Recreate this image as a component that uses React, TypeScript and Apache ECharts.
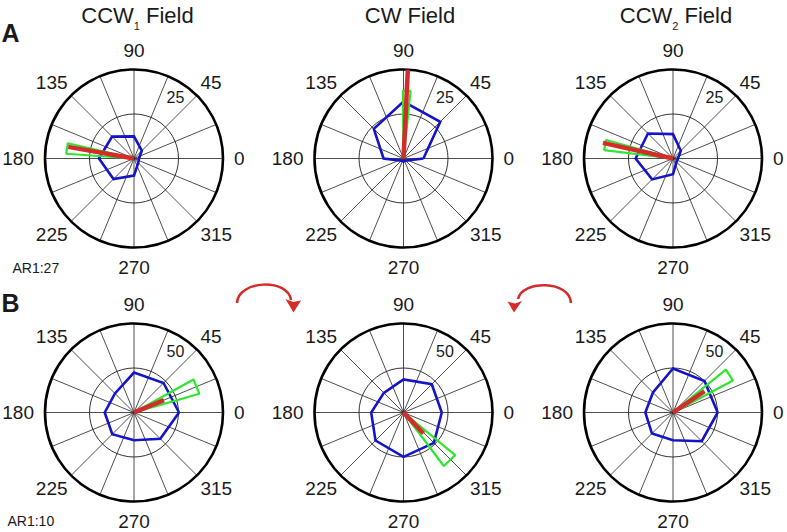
import React, { useEffect, useRef } from 'react';
import * as echarts from 'echarts';

// ---------- data ----------
const directions = [0, 45, 90, 135, 180, 225, 270, 315];
const angleLabelValues = [0, 45, 90, 135, 180, 225, 270, 315];

const panelTitleMain = ['CCW', 'CW', 'CCW'];
const panelTitleSub = ['1', '', '2'];
const rowLetters = ['A', 'B'];
const rowNotes = ['AR1:27', 'AR1:10'];
const rowMax = [50, 100];
const rowRingLabel = ['25', '50'];

// blue tuning curves (one value per direction)
const tuningA1 = [2.8, 6.2, 12.4, 17.4, 19.7, 16.3, 9.6, 3.4];
const tuningA2 = [11.2, 29.2, 32, 23.6, 11.2, 1.7, 1.7, 1.7];
const tuningA3 = [2.8, 6.2, 13.7, 19.9, 21, 16.6, 8.8, 2.8];
const tuningB1 = [50.6, 46.9, 44.9, 30.2, 32.9, 34.5, 31.1, 41.8];
const tuningB2 = [43, 44.9, 37.1, 31.2, 36.3, 44.5, 49.8, 48.3];
const tuningB3 = [50.2, 50, 49.4, 31.8, 31.1, 33.4, 31.1, 45.6];
const tunings = [tuningA1, tuningA2, tuningA3, tuningB1, tuningB2, tuningB3];

// green wedges
const wedgeStart = [167, 84, 164.5, 16, 307, 28];
const wedgeEnd = [176, 90.5, 173, 29, 320.5, 39];
const wedgeRadius = [38.2, 38.2, 39, 76.4, 75.3, 76.4];

// red mean vectors
const vectorAngle = [170, 87.2, 167.4, 22.4, 313.6, 34];
const vectorLength = [37.5, 57.1, 40.3, 36.4, 32.6, 42.7];

// ---------- layout ----------
const colX = [134, 403.5, 673];
const rowY = [158.5, 412.5];
const R = 89;
const FONT = '"Liberation Sans", Arial, Helvetica, sans-serif';
const TEXT = '#1a1a1a';
const BLUE = '#1414c8';
const GREEN = '#2ee62e';
const RED = '#d42b2b';

function buildOption() {
  const polar: any[] = [];
  const angleAxis: any[] = [];
  const radiusAxis: any[] = [];
  const series: any[] = [];
  const graphic: any[] = [];

  for (let i = 0; i < 6; i++) {
    const r = Math.floor(i / 3);
    const c = i % 3;
    const cx = colX[c];
    const cy = rowY[r];
    polar.push({ center: [cx, cy], radius: R });
    angleAxis.push({
      polarIndex: i,
      type: 'value',
      min: 0,
      max: 360,
      interval: 22.5,
      startAngle: 0,
      clockwise: false,
      axisLine: { show: true, lineStyle: { color: '#000', width: 2.6 } },
      axisTick: { show: false },
      splitLine: { show: true, lineStyle: { color: '#222', width: 0.8 } },
      axisLabel: {
        margin: 5,
        fontSize: 19,
        fontFamily: FONT,
        color: TEXT,
        formatter: (v: number) => {
          if (!angleLabelValues.includes(v)) return '';
          return v % 90 === 0 ? `{ax|${v}}` : `{dg|${v}}`;
        },
        rich: {
          ax: { fontSize: 19, fontFamily: FONT, color: TEXT, padding: [5, 6] },
          dg: { fontSize: 19, fontFamily: FONT, color: TEXT },
        },
      },
    });
    radiusAxis.push({
      polarIndex: i,
      type: 'value',
      min: 0,
      max: rowMax[r],
      interval: rowMax[r] / 2,
      axisLine: { show: false },
      axisTick: { show: false },
      axisLabel: { show: false },
      splitLine: { show: true, lineStyle: { color: '#000', width: 0.8 } },
    });

    const tuning = tunings[i];
    const blueData = directions.map((a, k) => [tuning[k], a]);
    blueData.push([tuning[0], directions[0]]);
    series.push({
      type: 'line',
      coordinateSystem: 'polar',
      polarIndex: i,
      data: blueData,
      symbol: 'none',
      clip: false,
      silent: true,
      z: 3,
      lineStyle: { color: BLUE, width: 2.6, join: 'miter' },
    });
    series.push({
      type: 'line',
      coordinateSystem: 'polar',
      polarIndex: i,
      data: [
        [0, wedgeStart[i]],
        [wedgeRadius[i], wedgeStart[i]],
        [wedgeRadius[i], wedgeEnd[i]],
        [0, wedgeEnd[i]],
      ],
      symbol: 'none',
      clip: false,
      silent: true,
      z: 4,
      lineStyle: { color: GREEN, width: 2.2 },
    });
    series.push({
      type: 'line',
      coordinateSystem: 'polar',
      polarIndex: i,
      data: [
        [0, vectorAngle[i]],
        [vectorLength[i], vectorAngle[i]],
      ],
      symbol: 'none',
      clip: false,
      silent: true,
      z: 5,
      lineStyle: { color: RED, width: 4.5 },
    });

    // ring label
    graphic.push({
      type: 'text',
      x: cx + 41.5,
      y: cy - 61.5,
      style: {
        text: rowRingLabel[r],
        fill: TEXT,
        fontSize: 16,
        fontFamily: FONT,
        textAlign: 'center',
        textVerticalAlign: 'middle',
      },
    });
  }

  // column titles
  const titleX = [137.5, 410, 676];
  for (let c = 0; c < 3; c++) {
    const sub = panelTitleSub[c];
    graphic.push({
      type: 'text',
      x: titleX[c],
      y: 15,
      style: {
        text: sub ? `{a|${panelTitleMain[c]}}{s|${sub}}{a| Field}` : `{a|${panelTitleMain[c]} Field}`,
        textAlign: 'center',
        textVerticalAlign: 'middle',
        rich: {
          a: { fontSize: 22, fontFamily: FONT, fill: TEXT, lineHeight: 32 },
          s: { fontSize: 11, fontFamily: FONT, fill: TEXT, lineHeight: 11, verticalAlign: 'bottom' },
        },
      },
    });
  }

  // row letters and notes
  const letterY = [33, 303];
  const noteX = [12.5, 7.5];
  const noteY = [268, 521];
  for (let r = 0; r < 2; r++) {
    graphic.push({
      type: 'text',
      x: 1.5,
      y: letterY[r],
      style: {
        text: rowLetters[r],
        fill: TEXT,
        fontSize: 25,
        fontWeight: 'bold',
        fontFamily: FONT,
        textAlign: 'left',
        textVerticalAlign: 'middle',
      },
    });
    graphic.push({
      type: 'text',
      x: noteX[r],
      y: noteY[r],
      style: {
        text: rowNotes[r],
        fill: TEXT,
        fontSize: 14,
        fontFamily: FONT,
        textAlign: 'left',
        textVerticalAlign: 'middle',
      },
    });
  }

  // curved arrows
  graphic.push({
    type: 'bezierCurve',
    shape: { x1: 237, y1: 303, cpx1: 238, cpy1: 280, cpx2: 288, cpy2: 278, x2: 291, y2: 300 },
    style: { stroke: RED, lineWidth: 2.5, fill: 'none' },
  });
  graphic.push({
    type: 'polygon',
    shape: { points: [[285.5, 299], [293, 302], [301, 300.5], [293.5, 312.5]] },
    style: { fill: RED },
  });
  graphic.push({
    type: 'bezierCurve',
    shape: { x1: 571, y1: 303, cpx1: 570, cpy1: 280, cpx2: 522, cpy2: 280, x2: 518, y2: 299 },
    style: { stroke: RED, lineWidth: 2.5, fill: 'none' },
  });
  graphic.push({
    type: 'polygon',
    shape: { points: [[507.5, 301.5], [515, 303.5], [522, 301], [514, 312.5]] },
    style: { fill: RED },
  });

  return {
    animation: false,
    backgroundColor: '#ffffff',
    polar,
    angleAxis,
    radiusAxis,
    series,
    graphic,
  };
}

export default function App() {
  const ref = useRef<HTMLDivElement>(null);
  useEffect(() => {
    if (!ref.current) return;
    const chart = echarts.init(ref.current, undefined, { renderer: 'svg' });
    chart.setOption(buildOption() as any);
    return () => chart.dispose();
  }, []);
  return (
    <div
      ref={ref}
      style={{ position: 'fixed', left: 0, top: 0, width: 787, height: 532, background: '#fff' }}
    />
  );
}
